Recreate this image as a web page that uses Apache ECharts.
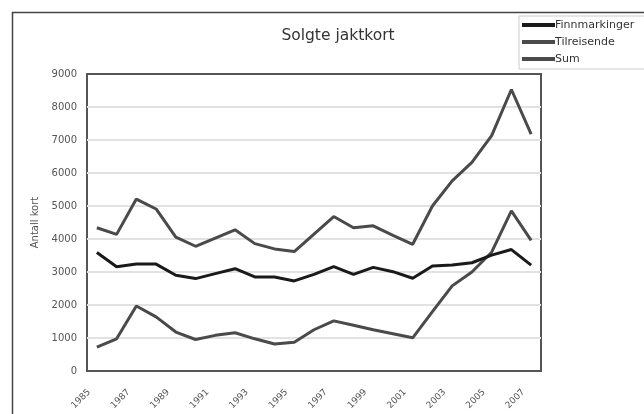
<!DOCTYPE html>
<html>
<head>
<meta charset="utf-8">
<script src="https://cdn.jsdelivr.net/npm/echarts@6/dist/echarts.min.js"></script>
<style>
  html, body { margin: 0; padding: 0; background: #fff; }
  #main { width: 644px; height: 414px; }
</style>
</head>
<body>
<div id="main"></div>
<script>
var years = ['1985', '1986', '1987', '1988', '1989', '1990', '1991', '1992', '1993', '1994', '1995', '1996',
             '1997', '1998', '1999', '2000', '2001', '2002', '2003', '2004', '2005', '2006', '2007'];
var finnmarkinger = [3590, 3160, 3240, 3240, 2900, 2800, 2950, 3100, 2850, 2850, 2730, 2930,
                     3160, 2930, 3140, 3010, 2810, 3180, 3210, 3280, 3510, 3680, 3210];
var tilreisende = [720, 975, 1970, 1640, 1180, 955, 1080, 1160, 975, 820, 870, 1250,
                   1520, 1385, 1250, 1130, 1005, 1800, 2580, 3000, 3600, 4850, 3960];
var sum = [4340, 4140, 5210, 4910, 4060, 3780, 4030, 4280, 3860, 3700, 3620, 4150,
           4680, 4340, 4400, 4110, 3840, 5000, 5760, 6320, 7130, 8530, 7180];

var font = 'DejaVu Sans';
var myChart = echarts.init(document.getElementById('main'));

function line(name, data, color) {
    return {
        name: name,
        type: 'line',
        data: data,
        symbol: 'none',
        color: color,
        lineStyle: { width: 3, color: color },
        z: 3
    };
}

myChart.setOption({
    backgroundColor: '#fff',
    animation: false,
    graphic: [{
        type: 'rect',
        shape: { x: 12.5, y: 12.5, width: 800, height: 600 },
        style: { fill: 'none', stroke: '#444', lineWidth: 1.5 },
        z: -1
    }],
    title: {
        text: 'Solgte jaktkort',
        left: 333,
        textAlign: 'center',
        top: 23,
        textStyle: { fontFamily: font, fontSize: 15.5, fontWeight: 'normal', color: '#333' }
    },
    legend: {
        orient: 'vertical',
        left: 519,
        top: 16,
        padding: [3, 40, 4, 3],
        borderColor: '#ccc',
        borderWidth: 1,
        icon: 'rect',
        itemWidth: 33,
        itemHeight: 4,
        itemGap: 5,
        textStyle: { fontFamily: font, fontSize: 11, color: '#333', lineHeight: 12, padding: [0, 0, 0, -5] },
        data: ['Finnmarkinger', 'Tilreisende', 'Sum']
    },
    grid: {
        left: 87,
        top: 74,
        right: 103,
        bottom: 43,
        show: true,
        borderColor: '#555',
        borderWidth: 2
    },
    xAxis: {
        type: 'category',
        data: years,
        axisLine: { show: false },
        axisTick: { show: false },
        axisLabel: {
            interval: 1,
            rotate: 45,
            margin: 12,
            padding: [0, 11, 0, 0],
            fontFamily: font,
            fontSize: 9,
            color: '#555'
        }
    },
    yAxis: {
        type: 'value',
        min: 0,
        max: 9000,
        interval: 1000,
        name: 'Antall kort',
        nameLocation: 'middle',
        nameGap: 43,
        nameTextStyle: { fontFamily: font, fontSize: 10, color: '#555' },
        axisLine: { show: false },
        axisTick: { show: false },
        axisLabel: {
            margin: 10,
            fontFamily: font,
            fontSize: 10,
            color: '#555',
            formatter: function (v) { return String(v); }
        },
        splitLine: { showMinLine: false, showMaxLine: false, lineStyle: { color: '#e2e2e2', width: 2 } }
    },
    series: [
        line('Sum', sum, '#4a4a4a'),
        line('Tilreisende', tilreisende, '#4a4a4a'),
        line('Finnmarkinger', finnmarkinger, '#1a1a1a')
    ]
});
</script>
</body>
</html>
